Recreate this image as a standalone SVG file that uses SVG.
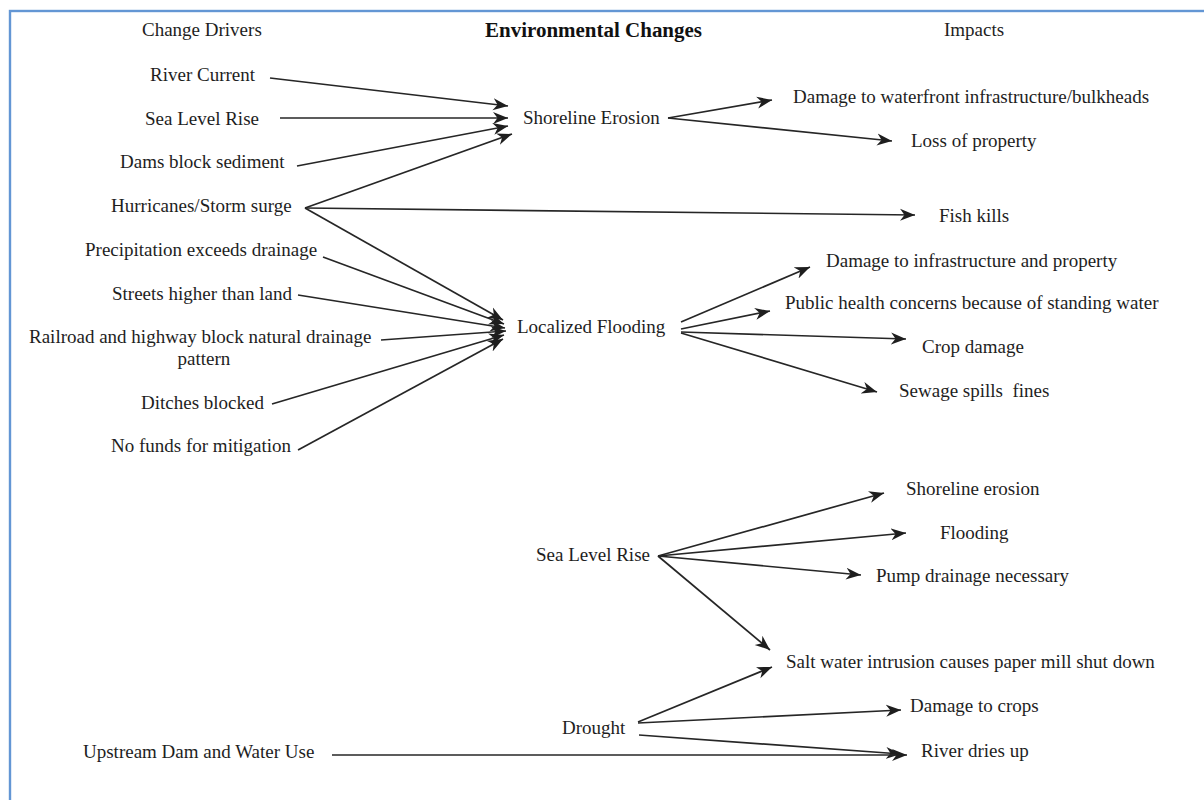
<svg xmlns="http://www.w3.org/2000/svg" width="1204" height="800" viewBox="0 0 1204 800">
  <style>
    text { font-family: "Liberation Serif", "Times New Roman", serif; font-size: 19px; fill: #1e1e1e; white-space: pre; }
    .hdr-b { font-weight: bold; font-size: 20.5px; fill: #111; }
    .mid { text-anchor: middle; }
    .edge { stroke: #262626; stroke-width: 1.7; fill: none; marker-end: url(#arrow); }
  </style>
  <defs>
    <marker id="arrow" markerUnits="userSpaceOnUse" markerWidth="17" markerHeight="14" refX="15" refY="6.5" orient="auto">
      <path d="M0,0.5 L15,6.5 L0,12.5 L4.5,6.5 Z" fill="#1e1e1e"/>
    </marker>
  </defs>

  <rect width="1204" height="800" fill="#fff"/>
  <!-- frame -->
  <rect x="10" y="11" width="1400" height="1000" fill="none" stroke="#6396d4" stroke-width="2.4"/>

  <!-- column headers -->
  <g id="headers">
    <text x="142" y="36">Change Drivers</text>
    <text class="hdr-b" x="485" y="37" textLength="217" lengthAdjust="spacingAndGlyphs">Environmental Changes</text>
    <text x="944" y="36">Impacts</text>
  </g>

  <!-- change drivers -->
  <g id="driver-river-current"><text x="150" y="81">River Current</text></g>
  <g id="driver-sea-level-rise"><text x="145" y="125">Sea Level Rise</text></g>
  <g id="driver-dams"><text x="120" y="168">Dams block sediment</text></g>
  <g id="driver-hurricanes"><text x="111" y="212">Hurricanes/Storm surge</text></g>
  <g id="driver-precipitation"><text x="85" y="256">Precipitation exceeds drainage</text></g>
  <g id="driver-streets"><text x="112" y="300">Streets higher than land</text></g>
  <g id="driver-railroad">
    <text x="29" y="343">Railroad and highway block natural drainage</text>
    <text class="mid" x="204" y="365">pattern</text>
  </g>
  <g id="driver-ditches"><text x="141" y="409">Ditches blocked</text></g>
  <g id="driver-no-funds"><text x="111" y="452">No funds for mitigation</text></g>
  <g id="driver-upstream-dam"><text x="83" y="758">Upstream Dam and Water Use</text></g>

  <!-- environmental changes -->
  <g id="change-shoreline-erosion"><text x="523" y="124">Shoreline Erosion</text></g>
  <g id="change-localized-flooding"><text x="517" y="333">Localized Flooding</text></g>
  <g id="change-sea-level-rise"><text x="536" y="561">Sea Level Rise</text></g>
  <g id="change-drought"><text x="562" y="734">Drought</text></g>

  <!-- impacts -->
  <g id="impact-waterfront"><text x="793" y="103">Damage to waterfront infrastructure/bulkheads</text></g>
  <g id="impact-loss-property"><text x="911" y="147">Loss of property</text></g>
  <g id="impact-fish-kills"><text x="939" y="222">Fish kills</text></g>
  <g id="impact-infrastructure"><text x="826" y="267">Damage to infrastructure and property</text></g>
  <g id="impact-public-health"><text x="785" y="309">Public health concerns because of standing water</text></g>
  <g id="impact-crop-damage"><text x="922" y="353">Crop damage</text></g>
  <g id="impact-sewage"><text x="899" y="397">Sewage spills  fines</text></g>
  <g id="impact-shoreline-erosion"><text x="906" y="495">Shoreline erosion</text></g>
  <g id="impact-flooding"><text x="940" y="539">Flooding</text></g>
  <g id="impact-pump"><text x="876" y="582">Pump drainage necessary</text></g>
  <g id="impact-salt-water"><text x="786" y="668">Salt water intrusion causes paper mill shut down</text></g>
  <g id="impact-damage-crops"><text x="910" y="712">Damage to crops</text></g>
  <g id="impact-river-dries"><text x="921" y="757">River dries up</text></g>

  <!-- connectors -->
  <g id="connectors">
    <!-- into Shoreline Erosion -->
    <line class="edge" x1="270" y1="78" x2="508" y2="106"/>
    <line class="edge" x1="280" y1="118" x2="508" y2="118"/>
    <line class="edge" x1="297" y1="166" x2="508" y2="126"/>
    <line class="edge" x1="305" y1="208" x2="512" y2="134"/>
    <!-- Hurricanes to Fish kills -->
    <line class="edge" x1="305" y1="208" x2="915" y2="215"/>
    <!-- into Localized Flooding -->
    <line class="edge" x1="305" y1="208" x2="503" y2="320"/>
    <line class="edge" x1="323" y1="257" x2="504" y2="324"/>
    <line class="edge" x1="298" y1="295" x2="505" y2="328"/>
    <line class="edge" x1="381" y1="340" x2="506" y2="331"/>
    <line class="edge" x1="272" y1="404" x2="504" y2="335"/>
    <line class="edge" x1="298" y1="450" x2="503" y2="339"/>
    <!-- from Shoreline Erosion -->
    <line class="edge" x1="668" y1="118" x2="772" y2="100"/>
    <line class="edge" x1="668" y1="118" x2="892" y2="141"/>
    <!-- from Localized Flooding -->
    <line class="edge" x1="681" y1="322" x2="810" y2="267"/>
    <line class="edge" x1="681" y1="329" x2="770" y2="311"/>
    <line class="edge" x1="681" y1="332" x2="906" y2="339"/>
    <line class="edge" x1="681" y1="333" x2="877" y2="392"/>
    <!-- from Sea Level Rise -->
    <line class="edge" x1="658" y1="556" x2="884" y2="493"/>
    <line class="edge" x1="658" y1="556" x2="906" y2="533"/>
    <line class="edge" x1="658" y1="556" x2="861" y2="575"/>
    <line class="edge" x1="658" y1="556" x2="770" y2="650"/>
    <!-- from Drought -->
    <line class="edge" x1="638" y1="722" x2="772" y2="667"/>
    <line class="edge" x1="638" y1="723" x2="901" y2="710"/>
    <line class="edge" x1="639" y1="735" x2="901" y2="754"/>
    <!-- Upstream Dam to River dries up -->
    <line class="edge" x1="332" y1="755" x2="907" y2="755"/>
  </g>
</svg>
